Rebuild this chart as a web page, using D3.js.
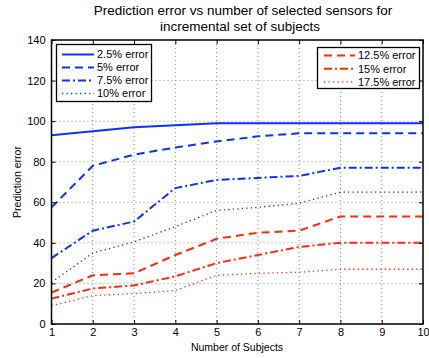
<!DOCTYPE html>
<html>
<head>
<meta charset="utf-8">
<script src="https://cdn.jsdelivr.net/npm/d3@7"></script>
<style>
  html, body { margin: 0; padding: 0; background: #fff; }
  svg { display: block; font-family: "Liberation Sans", Arial, Helvetica, sans-serif; }
</style>
</head>
<body>
<svg id="chart" width="429" height="358"></svg>
<script>
// Number of subjects on the x axis
const subjects = [1, 2, 3, 4, 5, 6, 7, 8, 9, 10];
const xTicks = [1, 2, 3, 4, 5, 6, 7, 8, 9, 10];
const yTicks = [0, 20, 40, 60, 80, 100, 120, 140];

// Prediction error per error threshold
const err2_5  = [93, 95, 97, 98, 99, 99, 99, 99, 99, 99];
const err5    = [57.5, 78, 83.5, 87, 90, 92.5, 94, 94, 94, 94];
const err7_5  = [32.5, 46, 50.5, 67, 71, 72, 73, 77, 77, 77];
const err10   = [20.5, 35, 40.5, 48, 56, 57.5, 59.5, 65, 65, 65];
const err12_5 = [15.5, 24, 25, 34, 42, 45, 46, 53, 53, 53];
const err15   = [12.5, 17.5, 19, 23.5, 30, 34, 38, 40, 40, 40];
const err17_5 = [9, 14, 15, 16.5, 24, 25, 25.5, 27, 27, 27];

const blue = "#0a32ff", red = "#ff2a0a";
const dashed = "8,5", dashDot = "8,3,2,3", dotted = "1.3,3.2";

const seriesLeft = [
  { name: "2.5% error", values: err2_5, color: blue, dash: null, width: 2 },
  { name: "5% error",   values: err5,   color: blue, dash: dashed, width: 2 },
  { name: "7.5% error", values: err7_5, color: blue, dash: dashDot, width: 2 },
  { name: "10% error",  values: err10,  color: blue, dash: dotted, width: 1.3 }
];
const seriesRight = [
  { name: "12.5% error", values: err12_5, color: red, dash: dashed, width: 2 },
  { name: "15% error",   values: err15,   color: red, dash: dashDot, width: 2 },
  { name: "17.5% error", values: err17_5, color: red, dash: dotted, width: 1.3 }
];

const svg = d3.select("#chart");
const m = { left: 51.5, right: 423, top: 40, bottom: 324 };

const x = d3.scaleLinear().domain([1, 10]).range([m.left, m.right]);
const y = d3.scaleLinear().domain([0, 140]).range([m.bottom, m.top]);

// Dotted grid
const grid = svg.append("g");
grid.selectAll(".gx").data(xTicks.slice(1, -1)).join("line")
  .attr("x1", d => x(d)).attr("x2", d => x(d))
  .attr("y1", m.top).attr("y2", m.bottom)
  .attr("stroke", "#777").attr("stroke-width", 0.8).attr("stroke-dasharray", "1,3");
grid.selectAll(".gy").data(yTicks.slice(1, -1)).join("line")
  .attr("x1", m.left).attr("x2", m.right)
  .attr("y1", d => y(d)).attr("y2", d => y(d))
  .attr("stroke", "#777").attr("stroke-width", 0.8).attr("stroke-dasharray", "1,3");

// Series lines
const line = d3.line().x((d, i) => x(subjects[i])).y(d => y(d));
const allSeries = seriesLeft.concat(seriesRight);
svg.append("g").selectAll("path").data(allSeries).join("path")
  .attr("d", d => line(d.values))
  .attr("fill", "none")
  .attr("stroke", d => d.color)
  .attr("stroke-width", d => d.width)
  .attr("stroke-dasharray", d => d.dash);

// Axes with inward ticks on all four sides
const tickLen = 4;
const axB = svg.append("g").attr("transform", `translate(0,${m.bottom})`)
  .call(d3.axisBottom(x).tickValues(xTicks).tickFormat(d3.format("d")).tickSizeInner(-tickLen).tickSizeOuter(0).tickPadding(4));
const axT = svg.append("g").attr("transform", `translate(0,${m.top})`)
  .call(d3.axisTop(x).tickValues(xTicks).tickFormat("").tickSizeInner(-tickLen).tickSizeOuter(0));
const axL = svg.append("g").attr("transform", `translate(${m.left},0)`)
  .call(d3.axisLeft(y).tickValues(yTicks).tickFormat(d3.format("d")).tickSizeInner(-tickLen).tickSizeOuter(0).tickPadding(6));
const axR = svg.append("g").attr("transform", `translate(${m.right},0)`)
  .call(d3.axisRight(y).tickValues(yTicks).tickFormat("").tickSizeInner(-tickLen).tickSizeOuter(0));
[axB, axT, axL, axR].forEach(a => {
  a.select(".domain").remove();
  a.selectAll("line").attr("stroke", "#000").attr("stroke-width", 1);
  a.selectAll("text").attr("fill", "#000").style("font-size", "11px");
});

// Plot frame
svg.append("rect")
  .attr("x", m.left).attr("y", m.top)
  .attr("width", m.right - m.left).attr("height", m.bottom - m.top)
  .attr("fill", "none").attr("stroke", "#000").attr("stroke-width", 1.5);

// Title and axis labels
svg.append("text").attr("x", 243).attr("y", 15).attr("text-anchor", "middle")
  .style("font-size", "13.5px").text("Prediction error vs number of selected sensors for");
svg.append("text").attr("x", 240).attr("y", 31).attr("text-anchor", "middle")
  .style("font-size", "13.5px").text("incremental set of subjects");
svg.append("text").attr("x", 237).attr("y", 351).attr("text-anchor", "middle")
  .style("font-size", "10.5px").text("Number of Subjects");
svg.append("text").attr("transform", "translate(21,182) rotate(-90)").attr("text-anchor", "middle")
  .style("font-size", "10.5px").text("Prediction error");

// Legends
function legend(items, bx, by, bw, bh, lx0, lx1, tx, ty0, dy) {
  const g = svg.append("g");
  g.append("rect").attr("x", bx).attr("y", by).attr("width", bw).attr("height", bh)
    .attr("fill", "#fff").attr("stroke", "#000").attr("stroke-width", 1.3);
  items.forEach((s, i) => {
    const yy = ty0 + i * dy;
    g.append("line").attr("x1", lx0).attr("x2", lx1).attr("y1", yy).attr("y2", yy)
      .attr("stroke", s.color).attr("stroke-width", s.width).attr("stroke-dasharray", s.dash);
    g.append("text").attr("x", tx).attr("y", yy).attr("dy", "0.36em")
      .style("font-size", "11px").text(s.name);
  });
}
legend(seriesLeft, 56.5, 44.5, 95, 57, 62, 94, 97, 54.5, 13);
legend(seriesRight, 317.5, 47.5, 102, 41, 324, 355, 358, 55.5, 13.2);
</script>
</body>
</html>
